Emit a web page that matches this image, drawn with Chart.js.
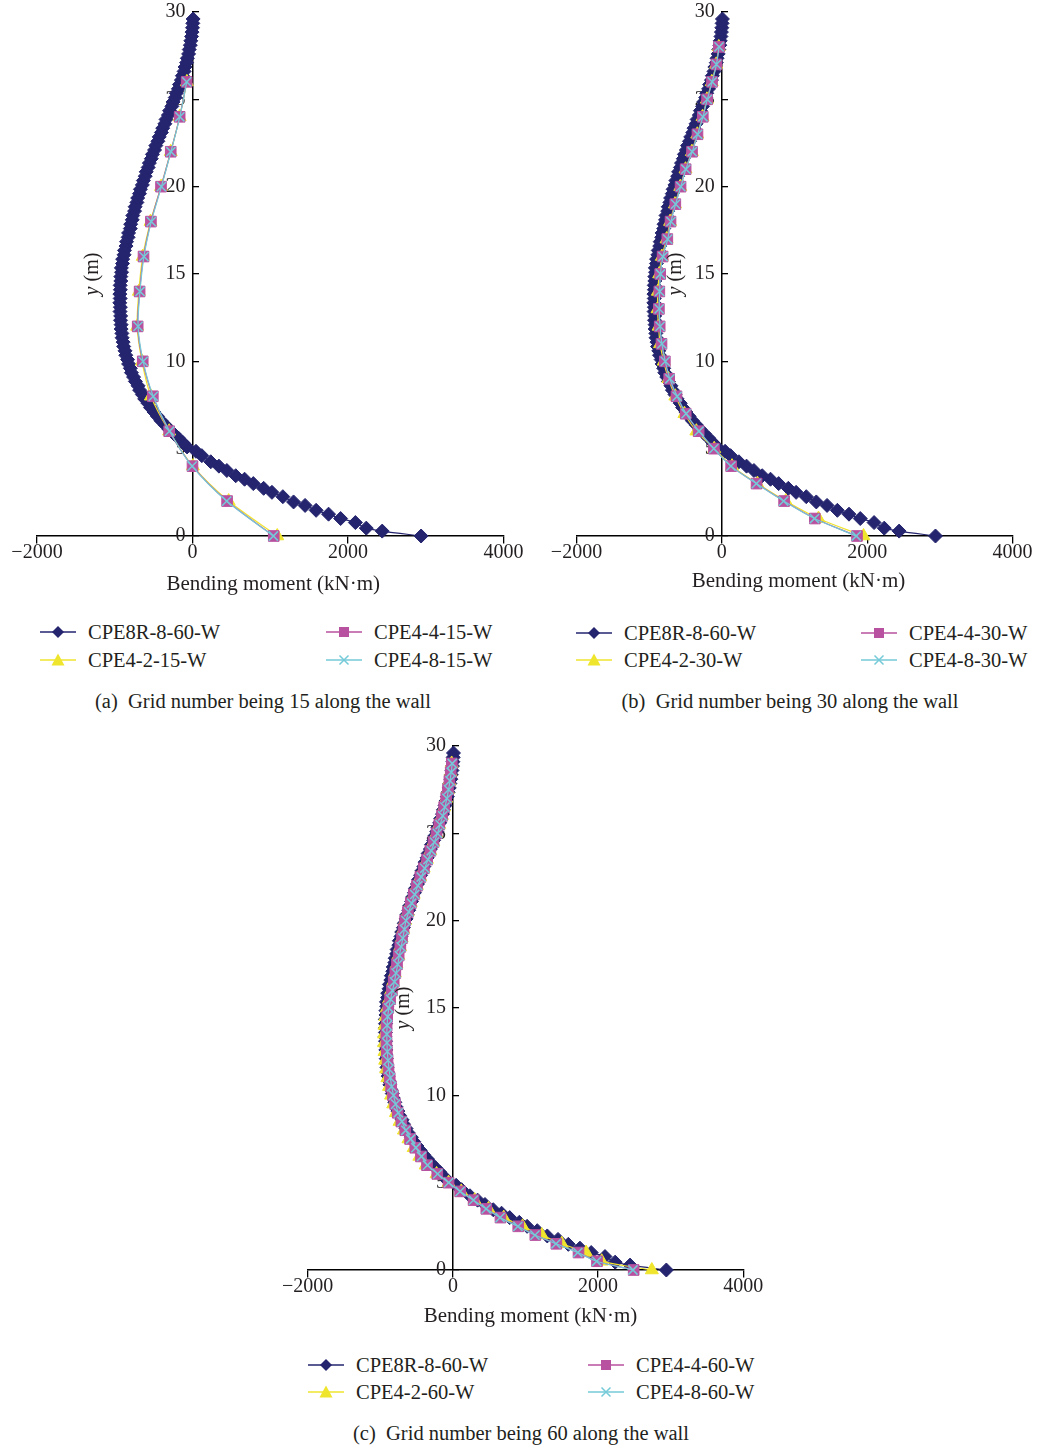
<!DOCTYPE html>
<html>
<head>
<meta charset="utf-8">
<script src="https://cdn.jsdelivr.net/npm/chart.js@4.4.1/dist/chart.umd.min.js"></script>
<style>
body { margin: 0; background: #fff; overflow: hidden; }
#page { position: relative; width: 1042px; height: 1449px; font-family: "Liberation Serif", serif; color: #231f20; }
.panel { position: absolute; }
.item { position: absolute; height: 24px; display: flex; align-items: center; white-space: nowrap; font-size: 20.5px; }
.item svg { width: 36px; height: 16px; margin-right: 12px; }
.caption { position: absolute; width: 600px; text-align: center; font-size: 20.5px; white-space: nowrap; }
</style>
</head>
<body>
<div id="page">
  <div class="panel" style="left:0px;top:0px"><canvas id="chartA" width="528" height="600"></canvas></div>
  <div class="panel" style="left:530px;top:0px"><canvas id="chartB" width="512" height="600"></canvas></div>
  <div class="panel" style="left:280px;top:720px"><canvas id="chartC" width="500" height="620"></canvas></div>
</div>
<script>
// axis ticks
const xTicks = [-2000, 0, 2000, 4000];
const yTicks = [0, 5, 10, 15, 20, 25, 30];

// CPE8R-8-60-W (reference solution, same in all three panels)
const refY = [0, 0.28, 0.45, 0.77, 1.0, 1.25, 1.47, 1.75, 1.95, 2.25, 2.5, 2.73, 3.0, 3.25, 3.45, 3.75, 4.0, 4.25, 4.6, 4.85, 5.1,
  5.35, 5.6, 5.85, 6.1, 6.35, 6.6, 6.85, 7.1, 7.35, 7.6, 7.85, 8.1, 8.35, 8.6, 8.85, 9.1, 9.35, 9.6, 9.85,
  10.1, 10.35, 10.6, 10.85, 11.1, 11.35, 11.6, 11.85, 12.1, 12.35, 12.6, 12.85, 13.1, 13.35, 13.6, 13.85,
  14.1, 14.35, 14.6, 14.85, 15.1, 15.35, 15.6, 15.85, 16.1, 16.35, 16.6, 16.85, 17.1, 17.35, 17.6, 17.85,
  18.1, 18.35, 18.6, 18.85, 19.1, 19.35, 19.6, 19.85, 20.1, 20.35, 20.6, 20.85, 21.1, 21.35, 21.6, 21.85,
  22.1, 22.35, 22.6, 22.85, 23.1, 23.35, 23.6, 23.85, 24.1, 24.35, 24.6, 24.85, 25.1, 25.35, 25.6, 25.85,
  26.1, 26.35, 26.6, 26.85, 27.1, 27.35, 27.6, 27.85, 28.1, 28.35, 28.6, 28.85, 29.1, 29.35, 29.6];
const refM = [2940, 2440, 2235, 2095, 1905, 1750, 1590, 1448, 1300, 1162, 1022, 915, 782, 670, 556, 442, 340, 235, 120, 45, -70,
  -125, -180, -240, -300, -350, -405, -450, -495, -540, -572, -615, -645, -680, -700, -735, -758, -785, -800, -822,
  -835, -858, -868, -885, -892, -905, -908, -918, -918, -926, -924, -932, -928, -935, -930, -934,
  -928, -930, -922, -922, -912, -915, -900, -898, -880, -875, -855, -848, -828, -822, -800, -795,
  -775, -768, -745, -738, -715, -705, -682, -670, -645, -632, -608, -595, -570, -555, -530, -515,
  -488, -472, -445, -428, -400, -383, -355, -340, -310, -295, -265, -250, -222, -208, -182, -168,
  -143, -130, -108, -96, -76, -66, -50, -42, -28, -22, -12, -6, 0, 4, 8];

// (a) 15 grids along the wall
const yA = [0, 2, 4, 6, 8, 10, 12, 14, 16, 18, 20, 22, 24, 26];
const a42 = [1090, 465, 5, -300, -535, -650, -712, -690, -640, -540, -405, -280, -165, -72];
const a44 = [1045, 445, 0, -300, -510, -640, -705, -680, -630, -535, -405, -280, -165, -75];
const a48 = [1040, 440, -5, -295, -505, -635, -700, -675, -625, -530, -400, -278, -163, -74];

// (b) 30 grids along the wall
const yB = [0, 1, 2, 3, 4, 5, 6, 7, 8, 9, 10, 11, 12, 13, 14, 15, 16, 17, 18, 19, 20, 21, 22, 23, 24, 25, 26, 27, 28];
const b42 = [1950, 1330, 880, 490, 140, -105, -350, -515, -640, -735, -800, -850, -870, -885, -880, -862, -825, -760, -712, -645, -572, -500, -412, -338, -265, -205, -138, -78, -42];
const b44 = [1860, 1280, 857, 478, 128, -109, -319, -497, -624, -724, -784, -830, -855, -866, -860, -848, -815, -750, -706, -640, -568, -498, -410, -335, -262, -203, -135, -75, -40];
const b48 = [1850, 1275, 850, 475, 125, -110, -315, -492, -615, -715, -778, -825, -850, -862, -855, -845, -810, -745, -700, -636, -565, -495, -408, -333, -260, -200, -133, -74, -38];

// (c) 60 grids along the wall
const yC = [0, 0.5, 1, 1.5, 2, 2.5, 3, 3.5, 4, 4.5, 5, 5.5, 6, 6.5, 7, 7.5, 8, 8.5, 9, 9.5,
  10, 10.5, 11, 11.5, 12, 12.5, 13, 13.5, 14, 14.5, 15, 15.5, 16, 16.5, 17, 17.5, 18, 18.5, 19, 19.5,
  20, 20.5, 21, 21.5, 22, 22.5, 23, 23.5, 24, 24.5, 25, 25.5, 26, 26.5, 27, 27.5, 28, 28.5, 29];
const c42 = [2740, 2050, 1835, 1500, 1225, 960, 700, 490, 300, 115, -60, -225, -375, -462, -540, -612, -675, -735, -785, -822,
  -852, -880, -902, -920, -933, -942, -948, -948, -942, -930, -910, -880, -852, -825, -800, -776, -752, -728, -705, -683,
  -660, -622, -582, -540, -497, -450, -402, -357, -312, -270, -228, -190, -153, -122, -94, -70, -50, -32, -17];
const c44 = [2490, 1985, 1730, 1425, 1135, 900, 655, 460, 285, 100, -60, -215, -357, -440, -518, -590, -655, -710, -760, -795,
  -825, -850, -870, -887, -900, -910, -915, -917, -913, -905, -890, -865, -840, -815, -793, -770, -747, -724, -701, -680,
  -658, -620, -580, -538, -495, -448, -400, -355, -310, -267, -225, -187, -150, -120, -92, -68, -48, -30, -15];
const c48 = [2480, 1980, 1720, 1420, 1130, 895, 650, 458, 283, 100, -58, -210, -350, -432, -510, -582, -648, -702, -752, -788,
  -818, -843, -862, -880, -893, -903, -908, -910, -906, -898, -882, -858, -832, -806, -783, -760, -737, -713, -690, -668,
  -646, -608, -568, -526, -483, -436, -388, -343, -298, -255, -213, -176, -140, -110, -83, -60, -40, -23, -9];

const navy = '#25256f', yellow = '#efe52c', magenta = '#b8519f', cyan = '#74cad8';
const styles = [
  { color: navy, pointStyle: 'rectRot', radius: 7, order: 4 },
  { color: yellow, pointStyle: 'triangle', radius: 7.5, order: 3 },
  { color: magenta, pointStyle: 'rect', radius: 7.5, order: 2 },
  { color: cyan, pointStyle: 'crossRot', radius: 6.5, order: 1 }
];

Chart.defaults.font.family = '"Liberation Serif", serif';
Chart.defaults.color = '#231f20';

// y tick labels (left of the axis, under the data) and both axis titles
const axisText = {
  id: 'axisText',
  beforeDatasetsDraw(chart) {
    const { ctx, scales: { x, y } } = chart;
    const x0 = x.getPixelForValue(0);
    ctx.save();
    ctx.fillStyle = '#231f20';
    ctx.font = '20px "Liberation Serif"';
    ctx.textAlign = 'right';
    ctx.textBaseline = 'middle';
    y.ticks.forEach(t => ctx.fillText(String(t.value), x0 - 7, y.getPixelForValue(t.value)));
    ctx.restore();
  },
  afterDatasetsDraw(chart, args, opts) {
    const { ctx, scales: { x, y } } = chart;
    const x0 = x.getPixelForValue(0), y0 = y.getPixelForValue(0);
    ctx.save();
    ctx.fillStyle = '#231f20';
    ctx.textBaseline = 'middle';
    ctx.textAlign = 'center';
    ctx.font = '21px "Liberation Serif"';
    ctx.fillText('Bending moment (kN\u00b7m)', (x.left + x.right) / 2 + opts.xShift, y0 + opts.xDrop);
    ctx.translate(x0 + opts.yOffset, (y.top + y.bottom) / 2);
    ctx.rotate(-Math.PI / 2);
    ctx.font = 'italic 20px "Liberation Serif"';
    const w1 = ctx.measureText('y').width;
    ctx.font = '20px "Liberation Serif"';
    const w2 = ctx.measureText(' (m)').width;
    ctx.textAlign = 'left';
    ctx.font = 'italic 20px "Liberation Serif"';
    ctx.fillText('y', -(w1 + w2) / 2, 0);
    ctx.font = '20px "Liberation Serif"';
    ctx.fillText(' (m)', -(w1 + w2) / 2 + w1, 0);
    ctx.restore();
  }
};

function series(label, ys, ms, k) {
  const s = styles[k];
  return {
    label: label,
    data: ys.map((v, i) => ({ x: ms[i], y: v })),
    showLine: true,
    borderColor: s.color,
    backgroundColor: s.color,
    borderWidth: 1.2,
    pointStyle: s.pointStyle,
    pointRadius: s.radius,
    pointBorderWidth: k === 3 ? 1.5 : 1,
    pointBorderColor: s.color,
    pointBackgroundColor: s.color,
    tension: 0.3,
    order: s.order,
    clip: false
  };
}

function makePanel(id, datasets, pad, t) {
  return new Chart(id, {
    type: 'scatter',
    data: { datasets: datasets },
    plugins: [axisText],
    options: {
      responsive: false,
      animation: false,
      layout: { padding: pad },
      plugins: { legend: { display: false }, tooltip: { enabled: false }, axisText: t },
      scales: {
        x: {
          type: 'linear', min: -2000, max: 4000, position: { y: 0 },
          afterBuildTicks: s => { s.ticks = xTicks.map(v => ({ value: v })); },
          grid: { display: true, drawOnChartArea: false, drawTicks: true, tickLength: 7, color: '#000', lineWidth: 1.3 },
          border: { display: true, color: '#000', width: 1.5 },
          ticks: { font: { size: 20 }, color: '#231f20', padding: -2, maxRotation: 0, autoSkip: false,
            callback: v => v < 0 ? '\u2212' + (-v) : String(v) }
        },
        y: {
          type: 'linear', min: 0, max: 30, position: { x: 0 },
          afterBuildTicks: s => { s.ticks = yTicks.map(v => ({ value: v })); },
          grid: { display: true, drawOnChartArea: false, drawTicks: true, tickLength: -7, color: '#000', lineWidth: 1.3 },
          border: { display: true, color: '#000', width: 1.5 },
          ticks: { display: false, padding: 0 }
        }
      }
    }
  });
}

const chartA = makePanel('chartA', [
  series('CPE8R-8-60-W', refY, refM, 0),
  series('CPE4-2-15-W', yA, a42, 1),
  series('CPE4-4-15-W', yA, a44, 2),
  series('CPE4-8-15-W', yA, a48, 3)
], { left: 37, right: 24.5, top: 12, bottom: 64 }, { xShift: 3, xDrop: 48, yOffset: -100 });

const chartB = makePanel('chartB', [
  series('CPE8R-8-60-W', refY, refM, 0),
  series('CPE4-2-30-W', yB, b42, 1),
  series('CPE4-4-30-W', yB, b44, 2),
  series('CPE4-8-30-W', yB, b48, 3)
], { left: 46.5, right: 29.5, top: 12, bottom: 64 }, { xShift: 4, xDrop: 45, yOffset: -46 });

const chartC = makePanel('chartC', [
  series('CPE8R-8-60-W', refY, refM, 0),
  series('CPE4-2-60-W', yC, c42, 1),
  series('CPE4-4-60-W', yC, c44, 2),
  series('CPE4-8-60-W', yC, c48, 3)
], { left: 27.7, right: 36.7, top: 26, bottom: 70 }, { xShift: 5, xDrop: 46, yOffset: -49 });

// legends and captions (HTML)
function marker(ds) {
  const c = ds.borderColor;
  let shape = '';
  if (ds.pointStyle === 'rectRot') shape = `<polygon points="18,2 24,8 18,14 12,8" fill="${c}"/>`;
  else if (ds.pointStyle === 'triangle') shape = `<polygon points="18,1.5 24.5,13.5 11.5,13.5" fill="${c}"/>`;
  else if (ds.pointStyle === 'rect') shape = `<rect x="13" y="3" width="10" height="10" fill="${c}"/>`;
  else shape = `<path d="M13.5,3.5 L22.5,12.5 M22.5,3.5 L13.5,12.5" stroke="${c}" stroke-width="1.5"/>`;
  return `<svg viewBox="0 0 36 16"><line x1="0" y1="8" x2="36" y2="8" stroke="${c}" stroke-width="1.5"/>${shape}</svg>`;
}

const page = document.getElementById('page');
function legend(chart, cols, rows, caption, capX, capY) {
  const spots = [[0, 0], [0, 1], [1, 0], [1, 1]];
  chart.data.datasets.forEach((ds, i) => {
    const el = document.createElement('div');
    el.className = 'item';
    el.style.left = cols[spots[i][0]] + 'px';
    el.style.top = (rows[spots[i][1]] - 12) + 'px';
    el.innerHTML = marker(ds) + '<span>' + ds.label + '</span>';
    page.appendChild(el);
  });
  const cap = document.createElement('div');
  cap.className = 'caption';
  cap.style.left = (capX - 300) + 'px';
  cap.style.top = (capY - 12) + 'px';
  cap.innerHTML = caption;
  page.appendChild(cap);
}
legend(chartA, [40, 326], [632, 660], '(a)&nbsp; Grid number being 15 along the wall', 263, 702);
legend(chartB, [576, 861], [633, 660], '(b)&nbsp; Grid number being 30 along the wall', 790, 702);
legend(chartC, [308, 588], [1365, 1392], '(c)&nbsp; Grid number being 60 along the wall', 521, 1434);
</script>
</body>
</html>
